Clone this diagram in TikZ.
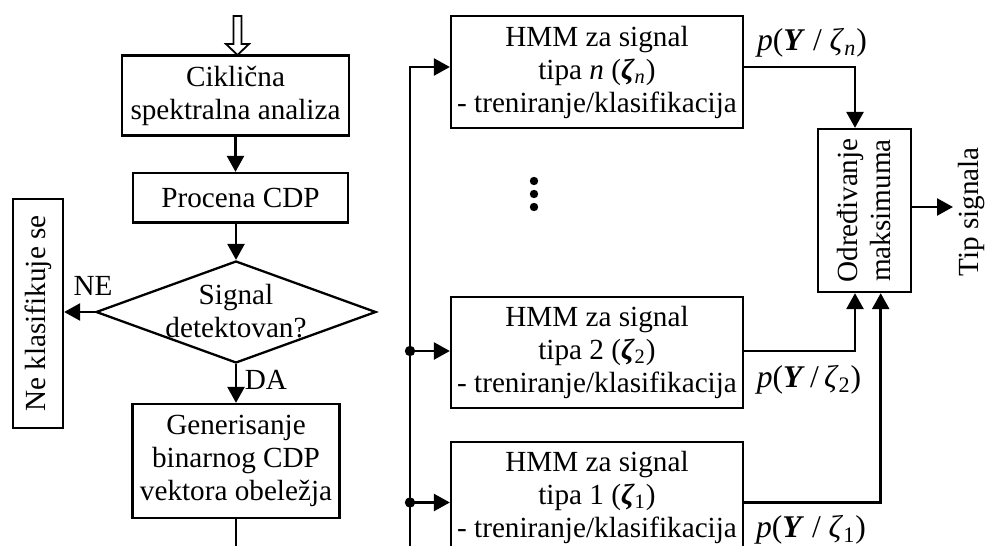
\documentclass[tikz,border=0pt]{standalone}
\usepackage{fontspec}
\setmainfont{Liberation Serif}
\usetikzlibrary{arrows.meta,shapes.geometric}
\newcommand\blkfont{\fontsize{14.6}{16.5}\selectfont}
\newcommand\labfont{\fontsize{15.8}{17}\selectfont}
\begin{document}
\begin{tikzpicture}[x=0.5pt,y=-0.5pt,
  box/.style={draw,line width=1.15pt,inner sep=0pt,align=center,font=\blkfont},
  arr/.style={line width=1.3pt,-{Triangle[length=8pt,width=8.5pt]}},
  ln/.style={line width=1.3pt},
  txt/.style={inner sep=0pt,font=\blkfont,align=center},
  lab/.style={inner sep=0pt,font=\labfont}]
\useasboundingbox (0,0) rectangle (986,546);
\coordinate (bot) at (0,546);

% left flowchart
\node[box,minimum width=113.5pt,minimum height=40pt] (cik) at (235.5,95.5) {Ciklična\\spektralna analiza};
\node[box,minimum width=107.5pt,minimum height=24.7pt] (proc) at (240.5,197.7) {Procena CDP};
\node[draw,diamond,line width=1.15pt,minimum width=140pt,minimum height=51pt,inner sep=0pt] (dia) at (236,312) {};
\node[txt] (dtx) at (236,311) {Signal\\detektovan?};
\node[box,rotate=90,minimum width=114.5pt,minimum height=25pt] (nek) at (38,313.5) {Ne klasifikuje se};
\node[box,minimum width=103.5pt,minimum height=57pt] (gen) at (236,461) {Generisanje\\binarnog CDP\\vektora obeležja};
\node[txt] (ne) at (93,286) {NE};
\node[txt] (da) at (266,380) {DA};

% hollow input arrow
\coordinate (intip) at (237.5,55);
\draw[line width=0.9pt,line join=miter] (intip) -- ++(-11.5,-11) -- ++(7.5,0) -- ++(0,-28) -- ++(8,0) -- ++(0,28) -- ++(7.5,0) -- cycle;

\draw[arr] (cik.south) -- (cik.south |- proc.north);
\draw[arr] (proc.south -| dia.north) -- (dia.north);
\draw[arr] (dia.west) -- (dia.west -| nek.south);
\draw[arr] (dia.south) -- (gen.north);
\draw[ln] (gen.south) -- (gen.south |- bot);

% right part
\node[box,minimum width=146pt,minimum height=56pt] (hn) at (597,72) {HMM za signal\\tipa \textit{n} (\textbf{\textit{ζ}}\textsubscript{\textit{n}})\\- treniranje/klasifikacija};
\node[box,minimum width=146pt,minimum height=55.5pt] (h2) at (597,352.5) {HMM za signal\\tipa 2 (\textbf{\textit{ζ}}\textsubscript{2})\\- treniranje/klasifikacija};
\node[box,minimum width=146pt,minimum height=55.5pt] (h1) at (597,497.5) {HMM za signal\\tipa 1 (\textbf{\textit{ζ}}\textsubscript{1})\\- treniranje/klasifikacija};
\node[box,rotate=90,minimum width=81.5pt,minimum height=46.5pt] (mx) at (864.5,210.5) {Određivanje\\maksimuma};
\node[txt,rotate=90] (tip) at (972,212) {Tip signala};

\node[lab] (pn) at (812,43) {\textit{p}(\textbf{\textit{Y}} / \textit{ζ}\textsubscript{\textit{n}})};
\node[lab] (p2) at (809,380) {\textit{p}(\textbf{\textit{Y}}\,/\,\textit{ζ}\textsubscript{2})};
\node[lab] (p1) at (811,530) {\textit{p}(\textbf{\textit{Y}} / \textit{ζ}\textsubscript{1})};

\fill (534,181) circle (2.1pt);
\fill (534,194) circle (2.1pt);
\fill (534,207) circle (2.1pt);

\coordinate (vbot) at (410,546);
\coordinate (vtop) at (410,67);
\coordinate (d2) at (410,351);
\coordinate (d1) at (410,502.5);
\coordinate (mxa) at (855,0);
\coordinate (mxb) at (880.7,0);
\coordinate (outend) at (953,207);

\draw[arr,line join=miter] (vbot) -- (vtop) -- (vtop -| hn.west);
\draw[arr] (d2) -- (d2 -| h2.west);
\draw[arr] (d1) -- (d1 -| h1.west);
\fill (d2) circle (2.6pt);
\fill (d1) circle (2.6pt);

\draw[arr] (vtop -| hn.east) -| (mx.east -| mxa);
\draw[arr] (d2 -| h2.east) -| (mx.west -| mxa);
\draw[arr] (d1 -| h1.east) -| (mx.west -| mxb);
\draw[arr] (mx.south |- outend) -- (outend);
\end{tikzpicture}
\end{document}
